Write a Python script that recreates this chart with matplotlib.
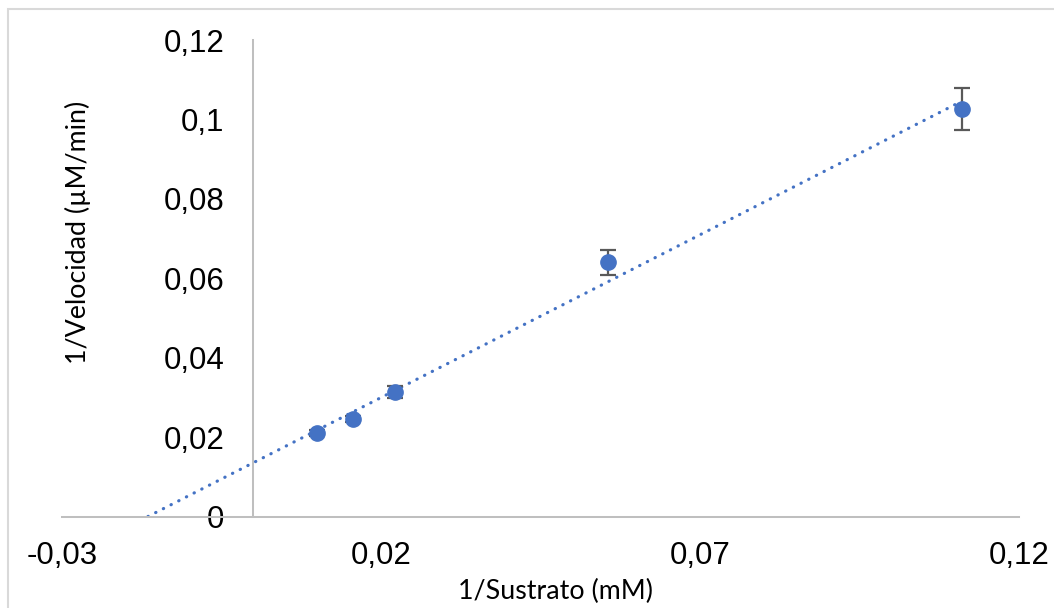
import numpy as np
import matplotlib

matplotlib.use('Agg')
from matplotlib import pyplot as plt
from matplotlib import patches

# 1/[S] (mM) and 1/v (uM/min)
inv_s = [1 / 100, 1 / 64, 1 / 45, 1 / 18, 1 / 9]
inv_v = [0.0211, 0.02455, 0.0314, 0.0640, 0.1026]
err = [0.0008, 0.0008, 0.0015, 0.0031, 0.0052]

x_ticks = [-0.03, 0.02, 0.07, 0.12]
y_ticks = [0, 0.02, 0.04, 0.06, 0.08, 0.1, 0.12]

blue = '#4472c4'
grid_grey = '#bfbfbf'

fig = plt.figure(figsize=(10.54, 6.08), dpi=100)
ax = fig.add_axes([62 / 1054, 1 - 516.5 / 608, (1019 - 62) / 1054, (516.5 - 40) / 608])

# linear trendline, extended back to where it hits y = 0
slope, icpt = np.polyfit(inv_s, inv_v, 1)
x0 = -icpt / slope
xs = np.array([x0, max(inv_s)])
ax.plot(xs, slope * xs + icpt, color=blue, lw=2.3,
        linestyle=(0, (0.1, 2.6)), dash_capstyle='round', zorder=1)

ax.errorbar(inv_s, inv_v, yerr=err, fmt='none', ecolor='#595959',
            elinewidth=1.6, capsize=6, capthick=1.6, zorder=2)
ax.plot(inv_s, inv_v, 'o', color=blue, markersize=11, zorder=3)

ax.set_xlim(-0.03, 0.12)
ax.set_ylim(0, 0.12)
ax.set_xticks(x_ticks)
ax.set_yticks(y_ticks)


def comma(v):
    return f'{v:g}'.replace('.', ',')


ax.set_xticklabels([comma(v) for v in x_ticks])
ax.set_yticklabels([comma(v) for v in y_ticks])

for s in ['top', 'right']:
    ax.spines[s].set_visible(False)
ax.spines['left'].set_position(('data', 0))
for s in ['left', 'bottom']:
    ax.spines[s].set_color(grid_grey)
    ax.spines[s].set_linewidth(1.45)

ax.tick_params(axis='both', length=0, labelsize=22.5, colors='black')
ax.tick_params(axis='y', pad=21)
ax.tick_params(axis='x', pad=18)
for lab in ax.get_xticklabels() + ax.get_yticklabels():
    lab.set_fontfamily('Liberation Sans')

fig.text(556 / 1054, 1 - 591 / 608, '1/Sustrato (mM)', ha='center', va='center',
         fontsize=19.3, family='Lato')
fig.text(78 / 1054, 1 - 232 / 608, '1/Velocidad (\u00b5M/min)', ha='center', va='center',
         rotation=90, fontsize=19.3, family='Lato')

# chart area border (runs off the right and bottom edges)
fig.patches.append(patches.Rectangle((8 / 1054, -0.1), 2, 1 - 9 / 608 + 0.1,
                                     transform=fig.transFigure, fill=False,
                                     edgecolor='#d9d9d9', lw=1.5))

fig.savefig('out.png', dpi=100)
